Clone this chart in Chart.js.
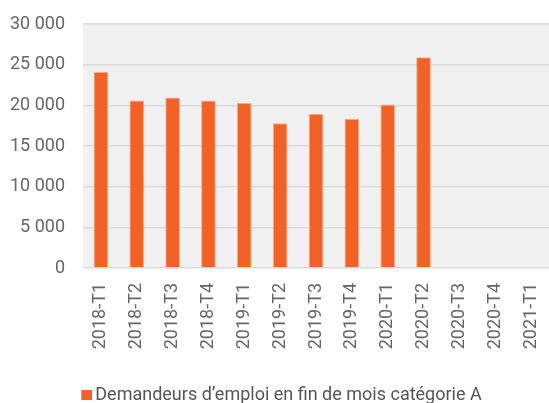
<!DOCTYPE html>
<html>
<head>
<meta charset="utf-8">
<script src="https://cdn.jsdelivr.net/npm/chart.js@4"></script>
<style>
html,body{margin:0;padding:0;background:#fff;}
#wrap{width:549px;height:403px;position:relative;overflow:hidden;}
</style>
</head>
<body>
<div id="wrap"><canvas id="c"></canvas></div>
<script>
const categories = ["2018-T1","2018-T2","2018-T3","2018-T4","2019-T1","2019-T2","2019-T3","2019-T4","2020-T1","2020-T2","2020-T3","2020-T4","2021-T1"];
const seriesName = "Demandeurs d’emploi en fin de mois catégorie A";
const values = [24100, 20600, 20950, 20600, 20300, 17800, 18950, 18350, 20100, 25900, null, null, null];
const yTicks = [0, 5000, 10000, 15000, 20000, 25000, 30000];

const barColor = '#f26125';

// legend marker: small square drawn at the right side of a wider transparent canvas
const marker = document.createElement('canvas');
marker.width = 25; marker.height = 10;
(function(){ const g = marker.getContext('2d'); g.fillStyle = barColor; g.fillRect(14, 0, 11, 10); })();

const plotBg = {
  id: 'plotBg',
  beforeDraw(chart) {
    const {ctx, chartArea: a} = chart;
    ctx.save();
    ctx.fillStyle = '#f1f1f1';
    ctx.fillRect(a.left, a.top, a.right - a.left, a.bottom - a.top);
    ctx.restore();
  }
};

Chart.defaults.font.family = 'Roboto';
Chart.defaults.color = '#666';

new Chart(document.getElementById('c'), {
  type: 'bar',
  data: {
    labels: categories,
    datasets: [{
      label: seriesName,
      data: values,
      backgroundColor: barColor,
      borderColor: '#f7a98a',
      borderWidth: 1,
      categoryPercentage: 1,
      barPercentage: 0.41
    }]
  },
  options: {
    responsive: true,
    maintainAspectRatio: false,
    animation: false,
    layout: { padding: { left: 0, right: -6, top: 24, bottom: -11 } },
    plugins: {
      tooltip: { enabled: false },
      legend: {
        position: 'bottom',
        labels: {
          color: '#555',
          font: { size: 18 },
          usePointStyle: true,
          pointStyle: marker,
          pointStyleWidth: 13,
          boxHeight: 10,
          padding: 1
        }
      }
    },
    scales: {
      x: {
        grid: { display: false, drawTicks: false },
        border: { display: false },
        afterFit(axis) { axis.height = 117; axis.paddingLeft = 0; axis.paddingRight = 0; },
        ticks: {
          autoSkip: false,
          minRotation: 90,
          maxRotation: 90,
          padding: 15,
          color: '#666',
          font: { size: 18 }
        }
      },
      y: {
        min: 0,
        max: 30000,
        afterBuildTicks(axis) { axis.ticks = yTicks.map(v => ({ value: v })); },
        afterFit(axis) { axis.width = 83; axis.paddingTop = 0; axis.paddingBottom = 0; },
        grid: { color: '#dcdcdc', lineWidth: 1.5, drawTicks: false },
        border: { display: false },
        ticks: {
          padding: 18,
          color: '#666',
          font: { size: 18 },
          callback: v => String(v).replace(/\B(?=(\d{3})+(?!\d))/g, ' ')
        }
      }
    }
  },
  plugins: [plotBg]
});
</script>
</body>
</html>
